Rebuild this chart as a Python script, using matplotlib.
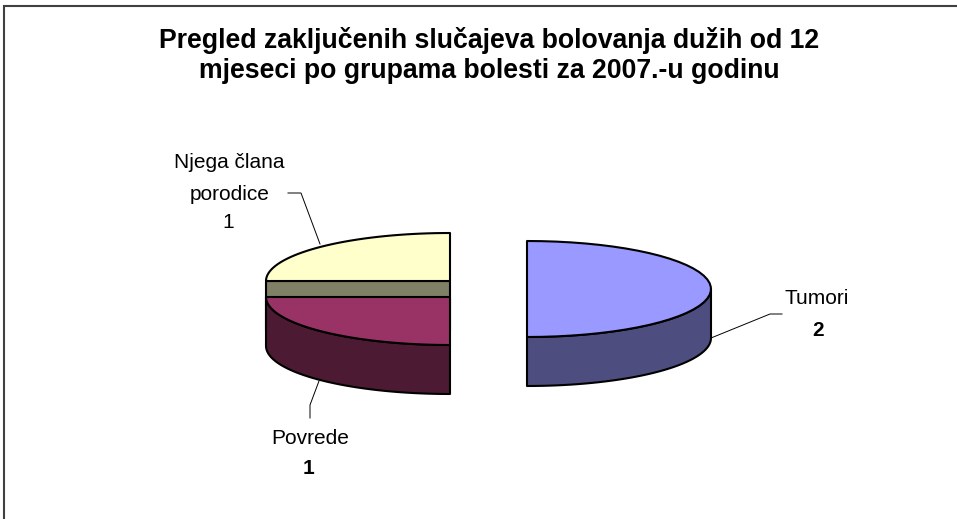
import numpy as np
import matplotlib
matplotlib.use('Agg')
import matplotlib.pyplot as plt

plt.rcParams['font.family'] = ['Liberation Sans', 'DejaVu Sans']

title_lines = ['Pregled zaključenih slučajeva bolovanja dužih od 12',
               'mjeseci po grupama bolesti za 2007.-u godinu']
categories = ['Tumori', 'Povrede', 'Njega člana\nporodice']
values = [2, 1, 1]
top_colors = ['#9999FF', '#993366', '#FFFFCC']
side_colors = ['#4D4D80', '#4D1A33', '#808066']

W, H = 957, 519
RX, RY, DEPTH = 184, 48, 49
# slice centres in pixels, the slices are pulled apart from each other
centers = [(527, 289), (450, 297), (450, 281)]


def ellipse_pts(center, a0, a1, n=40):
    # angles are clockwise from 12 o'clock, like the pie
    t = np.radians(np.linspace(a0, a1, n))
    return center[0] + RX * np.sin(t), center[1] - RY * np.cos(t)


fig = plt.figure(figsize=(W / 100, H / 100), dpi=100)
ax = fig.add_axes([0, 0, 1, 1])
ax.set_xlim(0, W)
ax.set_ylim(H, 0)
ax.axis('off')

# start and end angle of each slice from the values
ends = np.cumsum(values) / sum(values) * 360
starts = np.concatenate([[0], ends[:-1]])
edge = dict(edgecolor='black', linewidth=1.5, joinstyle='round')

# last slice first, Povrede has to cover the side of Njega
for i in [2, 1, 0]:
    c = centers[i]
    x, y = ellipse_pts(c, starts[i], ends[i])
    if i == 2:
        # only the cut face shows under this slice
        ax.fill([x[0], c[0], c[0], x[0]], [c[1], c[1], c[1] + DEPTH, c[1] + DEPTH],
                facecolor=side_colors[i], **edge)
    else:
        # outer wall is only visible on the front half
        sx, sy = ellipse_pts(c, max(starts[i], 90), min(ends[i], 270))
        ax.fill(np.r_[sx, sx[::-1]], np.r_[sy, sy[::-1] + DEPTH], facecolor=side_colors[i], **edge)
    ax.fill(np.r_[x, c[0]], np.r_[y, c[1]], facecolor=top_colors[i], **edge)

# leader lines
ax.plot([320, 301, 288], [244, 193, 193], color='black', lw=0.7)
ax.plot([319, 310, 310], [381, 405, 418], color='black', lw=0.7)
ax.plot([711, 770, 782], [338, 314, 314], color='black', lw=0.7)

# outer frame of the chart, cut off at right and bottom
ax.plot([4, 4, W], [H, 6, 6], color='#404040', lw=1.5, solid_joinstyle='miter')

ax.text(489, 41, title_lines[0], ha='center', va='center', fontsize=19.2, fontweight='bold')
ax.text(489, 71, title_lines[1], ha='center', va='center', fontsize=19.2, fontweight='bold')

fs = 15
njega = categories[2].split('\n')
ax.text(229, 163, njega[0], ha='center', va='center', fontsize=fs)
ax.text(230, 194, njega[1], ha='center', va='center', fontsize=fs)
ax.text(228, 222, str(values[2]), ha='center', va='center', fontsize=fs)
ax.text(310, 439, categories[1], ha='center', va='center', fontsize=fs)
ax.text(309, 469, str(values[1]), ha='center', va='center', fontsize=fs, fontweight='bold')
ax.text(817, 299, categories[0], ha='center', va='center', fontsize=fs)
ax.text(818, 330, str(values[0]), ha='center', va='center', fontsize=fs, fontweight='bold')

fig.savefig('out.png', dpi=100)
